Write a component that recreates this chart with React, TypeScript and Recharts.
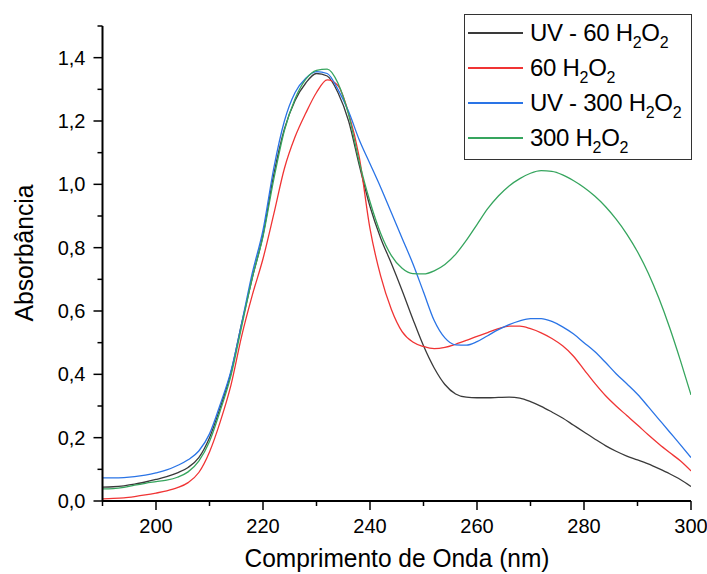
import React from "react";
import { LineChart, Line, XAxis, YAxis, Label } from "recharts";

const wavelengths = [
  190, 192, 194, 196, 198, 200, 202, 204, 206, 208, 210, 212, 214, 216, 218, 220, 222, 224, 226, 228,
  230, 232, 234, 236, 238, 240, 242, 244, 246, 248, 250, 252, 254, 256, 258, 260, 262, 264, 266, 268,
  270, 272, 274, 276, 278, 280, 282, 284, 286, 288, 290, 292, 294, 296, 298, 300,
];

const uv60 = [
  0.044, 0.045, 0.048, 0.053, 0.06, 0.068, 0.077, 0.089, 0.106, 0.137, 0.2, 0.295, 0.405, 0.56, 0.705, 0.84, 1.03, 1.175, 1.265, 1.32,
  1.35, 1.342, 1.29, 1.2, 1.06, 0.93, 0.83, 0.75, 0.665, 0.575, 0.49, 0.42, 0.368, 0.338, 0.328, 0.326, 0.326, 0.327, 0.328, 0.325,
  0.314, 0.299, 0.281, 0.262, 0.24, 0.218, 0.196, 0.175, 0.157, 0.142, 0.13, 0.117, 0.102, 0.086, 0.068, 0.046,
];

const h60 = [
  0.007, 0.008, 0.01, 0.014, 0.019, 0.025, 0.032, 0.042, 0.058, 0.09, 0.155, 0.25, 0.365, 0.52, 0.65, 0.765, 0.905, 1.05, 1.15, 1.225,
  1.29, 1.33, 1.312, 1.225, 1.085, 0.86, 0.71, 0.605, 0.535, 0.502, 0.488, 0.481, 0.485, 0.495, 0.507, 0.52, 0.532, 0.544, 0.552, 0.552,
  0.544, 0.531, 0.513, 0.49, 0.458, 0.415, 0.372, 0.333, 0.3, 0.27, 0.24, 0.209, 0.18, 0.153, 0.127, 0.095,
];

const uv300 = [
  0.073, 0.073, 0.074, 0.077, 0.082, 0.089, 0.098, 0.112, 0.13, 0.158, 0.212, 0.305, 0.41, 0.56, 0.72, 0.855, 1.05, 1.2, 1.29, 1.335,
  1.356, 1.35, 1.3, 1.23, 1.14, 1.065, 0.99, 0.91, 0.83, 0.75, 0.66, 0.57, 0.515, 0.493, 0.492, 0.503, 0.522, 0.541, 0.557, 0.569,
  0.576, 0.576, 0.567, 0.55, 0.528, 0.5, 0.472, 0.438, 0.402, 0.37, 0.337, 0.298, 0.258, 0.218, 0.178, 0.137,
];

const h300 = [
  0.038, 0.039, 0.043, 0.05, 0.056, 0.061, 0.066, 0.075, 0.092, 0.126, 0.188, 0.285, 0.395, 0.55, 0.705, 0.835, 1.015, 1.17, 1.27, 1.332,
  1.36, 1.364, 1.32, 1.22, 1.07, 0.945, 0.845, 0.775, 0.735, 0.718, 0.717, 0.727, 0.747, 0.779, 0.823, 0.873, 0.923, 0.963, 0.995, 1.018,
  1.035, 1.043, 1.041, 1.03, 1.012, 0.99, 0.963, 0.93, 0.89, 0.843, 0.787, 0.72, 0.64, 0.548, 0.445, 0.335,
];

const xTicks = [190, 200, 210, 220, 230, 240, 250, 260, 270, 280, 290, 300];
const yTicks = [0, 0.1, 0.2, 0.3, 0.4, 0.5, 0.6, 0.7, 0.8, 0.9, 1.0, 1.1, 1.2, 1.3, 1.4, 1.5];

// legend labels: prefix + "H2O2" with subscripts
const SERIES = [
  { key: "uv60", prefix: "UV - 60 ", color: "#3a3a3a" },
  { key: "h60", prefix: "60 ", color: "#f03434" },
  { key: "uv300", prefix: "UV - 300 ", color: "#2a74e6" },
  { key: "h300", prefix: "300 ", color: "#36a55e" },
];

const data = wavelengths.map((wl, i) => ({
  wl,
  uv60: uv60[i],
  h60: h60[i],
  uv300: uv300[i],
  h300: h300[i],
}));

const FONT = "'Liberation Sans', Arial, sans-serif";

const XTick = ({ x, y, payload }: any) => {
  const major = payload.value % 20 === 0;
  return (
    <g>
      <line x1={x} x2={x} y1={y} y2={y + (major ? 9 : 5)} stroke="#000" strokeWidth={1.5} />
      {major && (
        <text x={x} y={y + 32} textAnchor="middle" fontSize={20} fill="#000" fontFamily={FONT}>
          {payload.value}
        </text>
      )}
    </g>
  );
};

const YTick = ({ x, y, payload }: any) => {
  const major = Math.round(payload.value * 10) % 2 === 0;
  return (
    <g>
      <line x1={x - (major ? 9 : 5)} x2={x} y1={y} y2={y} stroke="#000" strokeWidth={1.5} />
      {major && (
        <text x={x - 17} y={y + 7} textAnchor="end" fontSize={20} fill="#000" fontFamily={FONT}>
          {payload.value.toFixed(1).replace(".", ",")}
        </text>
      )}
    </g>
  );
};

const Sub = ({ children }: any) => (
  <span style={{ fontSize: 16, position: "relative", top: 7, lineHeight: 0 }}>{children}</span>
);

const LegendBox = () => (
  <div
    style={{
      position: "absolute",
      left: 464,
      top: 14,
      width: 226,
      height: 144,
      border: "1.5px solid #333",
      background: "#fff",
      fontFamily: FONT,
      fontSize: 24,
      color: "#000",
    }}
  >
    {SERIES.map((s, i) => (
      <div
        key={s.key}
        style={{ position: "absolute", left: 0, top: i * 35, height: 35, display: "flex", alignItems: "center", whiteSpace: "nowrap" }}
      >
        <span style={{ display: "inline-block", marginLeft: 3, width: 55, height: 2, background: s.color }} />
        <span style={{ marginLeft: 7, letterSpacing: -0.3 }}>
          {s.prefix}H<Sub>2</Sub>O<Sub>2</Sub>
        </span>
      </div>
    ))}
  </div>
);

export default function App() {
  return (
    <div style={{ position: "relative", width: 707, height: 574, background: "#fff", fontFamily: FONT }}>
      <style>{`body{margin:0}`}</style>
      <LineChart width={707} height={574} data={data} margin={{ top: 26, right: 16, bottom: 0, left: 0 }}>
        <XAxis
          dataKey="wl"
          type="number"
          domain={[190, 300]}
          ticks={xTicks}
          interval={0}
          tickSize={0}
          tickMargin={0}
          tickLine={false}
          tick={<XTick />}
          axisLine={{ stroke: "#000", strokeWidth: 2 }}
          height={73}
          allowDataOverflow
        >
          <Label
            content={() => (
              <text x={397} y={567} textAnchor="middle" fontSize={26} fill="#000" fontFamily={FONT} textLength={305} lengthAdjust="spacingAndGlyphs">
                Comprimento de Onda (nm)
              </text>
            )}
          />
        </XAxis>
        <YAxis
          type="number"
          domain={[0, 1.5]}
          ticks={yTicks}
          interval={0}
          tickSize={0}
          tickMargin={0}
          tickLine={false}
          tick={<YTick />}
          axisLine={{ stroke: "#000", strokeWidth: 2 }}
          width={102.5}
          allowDataOverflow
        >
          <Label
            content={() => (
              <text transform="translate(33,253) rotate(-90)" textAnchor="middle" fontSize={26} fill="#000" fontFamily={FONT} textLength={137} lengthAdjust="spacingAndGlyphs">
                Absorbância
              </text>
            )}
          />
        </YAxis>
        {SERIES.map((s) => (
          <Line
            key={s.key}
            dataKey={s.key}
            type="monotone"
            stroke={s.color}
            strokeWidth={1.3}
            dot={false}
            activeDot={false}
            isAnimationActive={false}
          />
        ))}
      </LineChart>
      <LegendBox />
    </div>
  );
}
